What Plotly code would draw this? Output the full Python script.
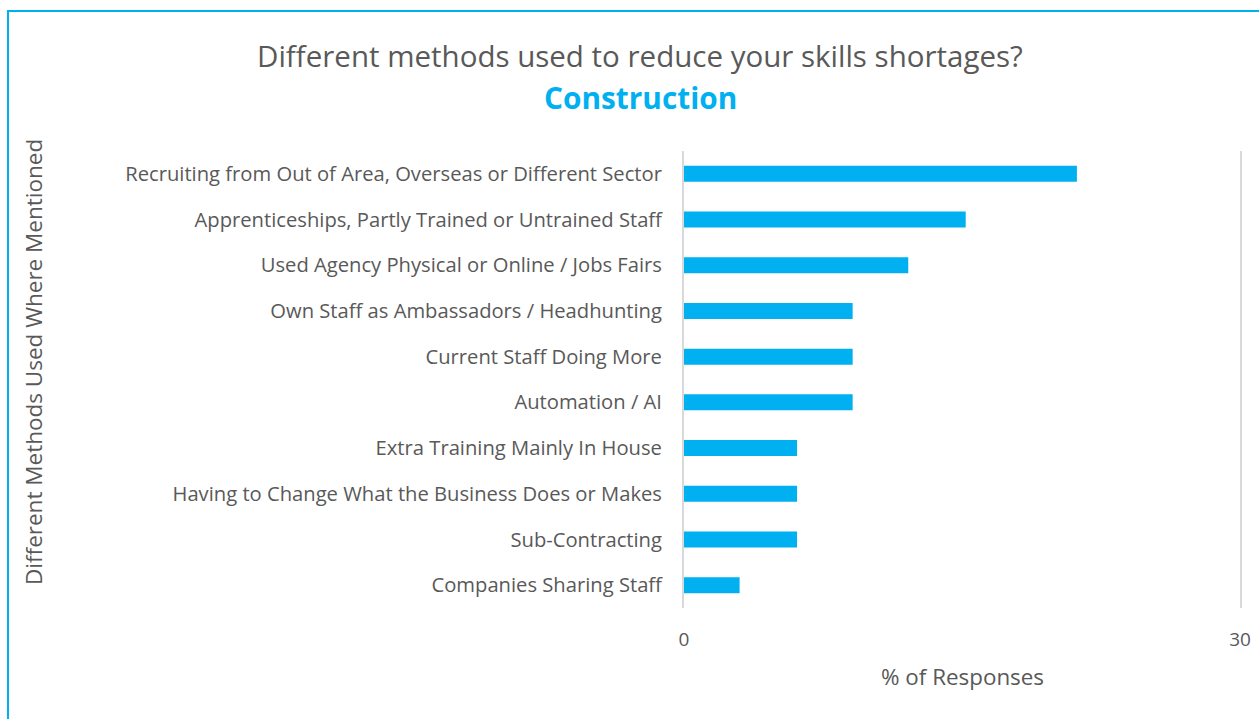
import plotly.graph_objects as go

# методы и доли ответов (%)
methods = [
    "Recruiting from Out of Area, Overseas or Different Sector",
    "Apprenticeships, Partly Trained or Untrained Staff",
    "Used Agency Physical or Online / Jobs Fairs",
    "Own Staff as Ambassadors / Headhunting",
    "Current Staff Doing More",
    "Automation / AI",
    "Extra Training Mainly In House",
    "Having to Change What the Business Does or Makes",
    "Sub-Contracting",
    "Companies Sharing Staff",
]
pct = [21.2, 15.2, 12.1, 9.1, 9.1, 9.1, 6.1, 6.1, 6.1, 3.0]
x_ticks = [0, 30]

blue = "#00B0F0"
grey = "#595959"
W, H = 1259, 719
L, R, T, B = 684, 19, 151, 111
pw, ph = W - L - R, H - T - B


def px_x(p):
    return (p - L) / pw


def px_y(p):
    return (H - B - p) / ph


fig = go.Figure()
fig.add_trace(go.Bar(x=pct, y=methods, orientation="h",
                     marker=dict(color=blue, line=dict(width=0)),
                     hoverinfo="x+y"))

fig.update_layout(
    width=W, height=H,
    margin=dict(l=L, r=R, t=T, b=B),
    plot_bgcolor="white", paper_bgcolor="white",
    font=dict(family="Open Sans", color=grey, size=18),
    bargap=0.65, showlegend=False,
)
fig.update_xaxes(range=[0, 30], tickvals=x_ticks, showgrid=False,
                 zeroline=False, showline=False, ticklabelstandoff=18,
                 automargin=False,
                 tickfont=dict(size=19, color=grey), fixedrange=True)
# линии сетки на 0 и 30 - через линию оси y с зеркалом
fig.update_yaxes(categoryorder="array", categoryarray=methods[::-1],
                 showgrid=False, showline=True, mirror=True,
                 linecolor="#d9d9d9", linewidth=2, ticklabelstandoff=16,
                 automargin=False,
                 tickfont=dict(size=20.2, color=grey), fixedrange=True)

fig.add_annotation(x=px_x(640), y=px_y(55), xref="paper", yref="paper",
                   xanchor="center", yanchor="middle", showarrow=False,
                   text="Different methods used to reduce your skills shortages?",
                   font=dict(size=29.5, color=grey))
fig.add_annotation(x=px_x(640), y=px_y(98), xref="paper", yref="paper",
                   xanchor="center", yanchor="middle", showarrow=False,
                   text="<b>Construction</b>", font=dict(size=29.8, color=blue))
fig.add_annotation(x=px_x(962), y=px_y(676), xref="paper", yref="paper",
                   xanchor="center", yanchor="middle", showarrow=False,
                   text="% of Responses", font=dict(size=22.4, color=grey))
fig.add_annotation(x=px_x(33), y=px_y(362), xref="paper", yref="paper",
                   xanchor="center", yanchor="middle", showarrow=False,
                   textangle=-90, text="Different Methods Used Where Mentioned",
                   font=dict(size=22.5, color=grey))

# рамка вокруг графика
fig.add_shape(type="rect", xref="paper", yref="paper",
              x0=px_x(8), x1=px_x(1270), y0=px_y(730), y1=px_y(11),
              line=dict(color=blue, width=2), layer="above")

fig.write_html("out.html", config={"displayModeBar": False},
               post_script="document.body.style.margin='0';"
                           "document.body.style.overflow='hidden';")
